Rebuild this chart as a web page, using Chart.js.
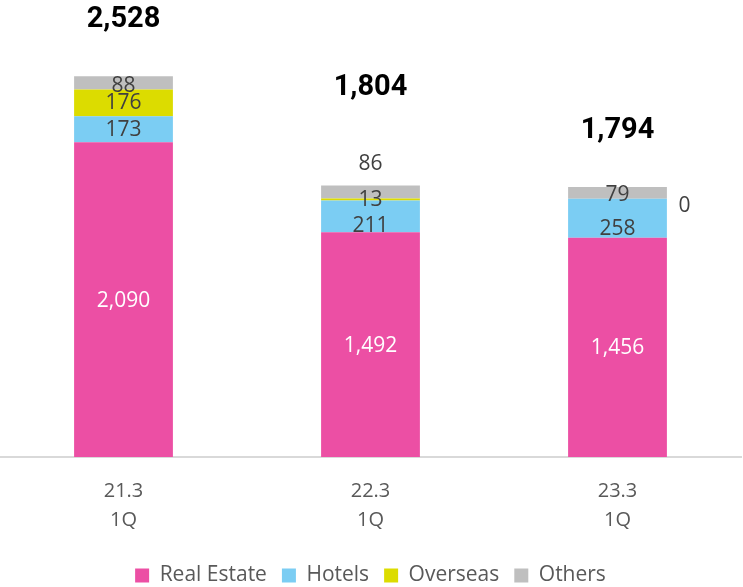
<!DOCTYPE html>
<html>
<head>
<meta charset="utf-8">
<script src="https://cdn.jsdelivr.net/npm/chart.js@4/dist/chart.umd.min.js"></script>
<style>
  html, body { margin: 0; padding: 0; background: #fff; }
  #wrap { width: 743px; height: 587px; position: relative; }
</style>
</head>
<body>
<div id="wrap"><canvas id="c"></canvas></div>
<script>
// --- DATA ---
const categories = [["21.3", "1Q"], ["22.3", "1Q"], ["23.3", "1Q"]];
const realEstate = [2090, 1492, 1456];
const hotels = [173, 211, 258];
const overseas = [176, 13, 0];
const others = [88, 86, 79];
const totals = [2528, 1804, 1794];

// label nudges (px) per dataset / bar, [dx, dy] from segment centre
const labelShift = [
  [[0, 1], [0, 1], [0, 1]],
  [[0, 1], [0, 10], [0, 11]],
  [[0, 0], [0, 1], [67, 7]],
  [[0, 3], [0, -28], [0, 2]]
];
const totalGap = [57, 98, 56];

const totalsPlugin = {
  id: 'labels',
  afterDatasetsDraw(chart) {
    const ctx = chart.ctx;
    ctx.save();
    ctx.textAlign = 'center';
    ctx.textBaseline = 'middle';
    chart.data.datasets.forEach((ds, i) => {
      const meta = chart.getDatasetMeta(i);
      meta.data.forEach((bar, j) => {
        const mid = (bar.y + bar.base) / 2;
        const [dx, dy] = labelShift[i][j];
        ctx.font = '21px "Open Sans", sans-serif';
        ctx.fillStyle = i === 0 ? '#ffffff' : '#404040';
        ctx.fillText(ds.data[j].toLocaleString('en-US'), bar.x + dx, mid + dy);
      });
    });
    const top = chart.getDatasetMeta(chart.data.datasets.length - 1);
    top.data.forEach((bar, j) => {
      ctx.font = 'bold 29px Roboto, sans-serif';
      ctx.fillStyle = '#000000';
      ctx.fillText(totals[j].toLocaleString('en-US'), bar.x, bar.y - totalGap[j]);
    });
    ctx.restore();
  }
};

const ctx = document.getElementById('c').getContext('2d');
new Chart(ctx, {
  type: 'bar',
  data: {
    labels: categories,
    datasets: [
      { label: 'Real Estate', data: realEstate, backgroundColor: '#EC4FA4' },
      { label: 'Hotels', data: hotels, backgroundColor: '#7BCDF3' },
      { label: 'Overseas', data: overseas, backgroundColor: '#DCDC00' },
      { label: 'Others', data: others, backgroundColor: '#BFBFBF' }
    ]
  },
  options: {
    responsive: true,
    maintainAspectRatio: false,
    animation: false,
    datasets: { bar: { categoryPercentage: 1, barPercentage: 0.4, borderWidth: 0 } },
    layout: { padding: { top: 0, left: 0, right: 2, bottom: -9 } },
    scales: {
      x: {
        stacked: true,
        grid: { display: false, drawTicks: false },
        border: { color: '#D9D9D9', width: 2 },
        ticks: { color: '#595959', font: { size: 20, family: '"Open Sans", sans-serif', lineHeight: 1.45 }, padding: 20 },
        afterFit(scale) { scale.height = 93; }
      },
      y: {
        stacked: true,
        display: false,
        min: 0,
        max: 3034
      }
    },
    plugins: {
      legend: {
        position: 'bottom',
        labels: {
          color: '#595959',
          font: { size: 21, family: '"Open Sans", sans-serif' },
          boxWidth: 14,
          boxHeight: 14,
          padding: 15
        }
      },
      tooltip: { enabled: false }
    }
  },
  plugins: [totalsPlugin]
});
</script>
</body>
</html>
